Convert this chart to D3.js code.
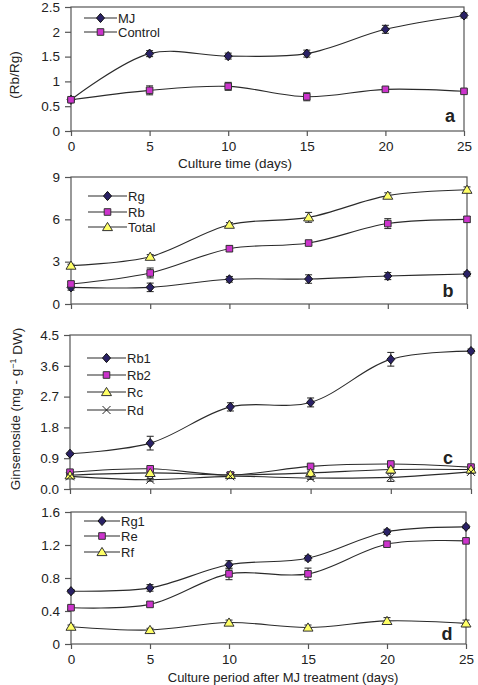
<!DOCTYPE html>
<html>
<head>
<meta charset="utf-8">
<script src="https://cdn.jsdelivr.net/npm/d3@7/dist/d3.min.js"></script>
<style>
  html, body { margin: 0; padding: 0; background: #fff; }
  svg { display: block; }
  text { font-family: "Liberation Sans", Arial, sans-serif; fill: #222; }
</style>
</head>
<body>
<svg id="chart" width="478" height="685"></svg>
<script>
// ---------- DATA ----------
const days = [0, 5, 10, 15, 20, 25];
const xTickLabels = ["0", "5", "10", "15", "20", "25"];

// Panel a: Rb/Rg ratio
const mjRatio        = [0.63, 1.56, 1.51, 1.56, 2.05, 2.33];
const mjRatioErr     = [0.03, 0.06, 0.06, 0.07, 0.08, 0.05];
const controlRatio    = [0.63, 0.82, 0.90, 0.69, 0.84, 0.80];
const controlRatioErr = [0.03, 0.09, 0.08, 0.08, 0.04, 0.03];
const ticksA = [0, 0.5, 1, 1.5, 2, 2.5];

// Panel b: Rg, Rb, Total
const rgGroup    = [1.18, 1.18, 1.75, 1.77, 1.98, 2.13];
const rgGroupErr = [0.2, 0.3, 0.2, 0.3, 0.25, 0.15];
const rbGroup    = [1.42, 2.20, 3.92, 4.32, 5.70, 6.00];
const rbGroupErr = [0.15, 0.35, 0.2, 0.15, 0.35, 0.2];
const totalGin    = [2.72, 3.35, 5.62, 6.14, 7.68, 8.10];
const totalGinErr = [0.1, 0.15, 0.15, 0.35, 0.2, 0.2];
const ticksB = [0, 3, 6, 9];

// Panel c: Rb1, Rb2, Rc, Rd
const rb1    = [1.03, 1.34, 2.40, 2.53, 3.79, 4.03];
const rb1Err = [0.03, 0.2, 0.12, 0.13, 0.2, 0.06];
const rb2    = [0.49, 0.59, 0.41, 0.66, 0.73, 0.64];
const rb2Err = [0.03, 0.04, 0.04, 0.04, 0.05, 0.04];
const rc     = [0.40, 0.47, 0.41, 0.47, 0.57, 0.57];
const rcErr  = [0.03, 0.04, 0.03, 0.05, 0.05, 0.04];
const rd     = [0.37, 0.27, 0.37, 0.32, 0.34, 0.50];
const rdErr  = [0.03, 0.04, 0.03, 0.04, 0.12, 0.04];
const ticksC = [0, 0.9, 1.8, 2.7, 3.6, 4.5];

// Panel d: Rg1, Re, Rf
const rg1    = [0.64, 0.68, 0.96, 1.04, 1.36, 1.42];
const rg1Err = [0.02, 0.04, 0.05, 0.03, 0.03, 0.02];
const re     = [0.44, 0.48, 0.85, 0.85, 1.21, 1.25];
const reErr  = [0.02, 0.03, 0.07, 0.07, 0.03, 0.02];
const rf     = [0.21, 0.17, 0.26, 0.20, 0.28, 0.25];
const rfErr  = [0.02, 0.02, 0.03, 0.03, 0.04, 0.04];
const ticksD = [0, 0.4, 0.8, 1.2, 1.6];

// ---------- STYLE / LAYOUT ----------
const markerStyle = {
  diamond:  { fill: "#2a2166", stroke: "#111" },
  square:   { fill: "#cc33cc", stroke: "#333" },
  triangle: { fill: "#ffff66", stroke: "#333" },
  cross:    { fill: "none",    stroke: "#222" }
};
function markerPath(type) {
  switch (type) {
    case "diamond":  return "M0,-4.6L4,0L0,4.6L-4,0Z";
    case "square":   return "M-3.3,-3.3H3.3V3.3H-3.3Z";
    case "triangle": return "M0,-4.6L5,3.6L-5,3.6Z";
    case "cross":    return "M-4,-4L4,4M-4,4L4,-4";
  }
}

const panels = [
  { left: 71, right: 464, top: 7, bottom: 131, max: 2.5, ticks: ticksA, fmt: d => String(d),
    letter: "a", letterPos: [450, 116], xLabels: true,
    legend: { x1: 84, x2: 117, ys: [18, 32] },
    series: [
      { name: "MJ", values: mjRatio, err: mjRatioErr, marker: "diamond" },
      { name: "Control", values: controlRatio, err: controlRatioErr, marker: "square" }
    ] },
  { left: 71, right: 467, top: 177, bottom: 304, max: 9, ticks: ticksB, fmt: d => String(d),
    letter: "b", letterPos: [448, 291], xLabels: false,
    legend: { x1: 88, x2: 127, ys: [196, 212, 227] },
    series: [
      { name: "Rg", values: rgGroup, err: rgGroupErr, marker: "diamond" },
      { name: "Rb", values: rbGroup, err: rbGroupErr, marker: "square" },
      { name: "Total", values: totalGin, err: totalGinErr, marker: "triangle" }
    ] },
  { left: 70, right: 471, top: 335, bottom: 489, max: 4.5, ticks: ticksC, fmt: d3.format(".1f"),
    letter: "c", letterPos: [448, 458], xLabels: false,
    legend: { x1: 87, x2: 126, ys: [358, 375, 392, 410] },
    series: [
      { name: "Rb1", values: rb1, err: rb1Err, marker: "diamond" },
      { name: "Rb2", values: rb2, err: rb2Err, marker: "square" },
      { name: "Rc", values: rc, err: rcErr, marker: "triangle" },
      { name: "Rd", values: rd, err: rdErr, marker: "cross" }
    ] },
  { left: 71, right: 466, top: 512, bottom: 644, max: 1.6, ticks: ticksD, fmt: d => String(d),
    letter: "d", letterPos: [447, 634], xLabels: true,
    legend: { x1: 84, x2: 120, ys: [521, 536, 552] },
    series: [
      { name: "Rg1", values: rg1, err: rg1Err, marker: "diamond" },
      { name: "Re", values: re, err: reErr, marker: "square" },
      { name: "Rf", values: rf, err: rfErr, marker: "triangle" }
    ] }
];

const svg = d3.select("#chart");
const FONT = "Liberation Sans, Arial, sans-serif";

panels.forEach(p => {
  const x = d3.scaleLinear().domain([0, 25]).range([p.left, p.right]);
  const y = d3.scaleLinear().domain([0, p.max]).range([p.bottom, p.top]);
  const g = svg.append("g");

  // frame
  g.append("rect")
    .attr("x", p.left).attr("y", p.top)
    .attr("width", p.right - p.left).attr("height", p.bottom - p.top)
    .attr("fill", "none").attr("stroke", "#555").attr("stroke-width", 1.2);

  // y axis
  const ya = g.append("g").attr("transform", `translate(${p.left},0)`)
    .call(d3.axisLeft(y).tickValues(p.ticks).tickFormat(p.fmt).tickSize(6).tickPadding(5));
  ya.select(".domain").remove();
  ya.selectAll(".tick line").attr("stroke", "#555").attr("stroke-width", 1.2);
  ya.selectAll(".tick text").style("font-size", "13.5px").style("font-family", FONT).attr("fill", "#222");

  // x axis
  const xa = g.append("g").attr("transform", `translate(0,${p.bottom})`)
    .call(d3.axisBottom(x).tickValues(days).tickFormat((d, i) => p.xLabels ? xTickLabels[i] : "").tickSize(5).tickPadding(5));
  xa.select(".domain").remove();
  xa.selectAll(".tick line").attr("stroke", "#555").attr("stroke-width", 1.2);
  xa.selectAll(".tick text").style("font-size", "13.5px").style("font-family", FONT).attr("fill", "#222");

  const line = d3.line()
    .x((d, i) => x(days[i]))
    .y(d => y(d))
    .curve(d3.curveCatmullRom.alpha(0.5));

  // lines
  p.series.forEach(s => {
    g.append("path").datum(s.values)
      .attr("d", line).attr("fill", "none")
      .attr("stroke", "#2a2a2a").attr("stroke-width", 1.1);
  });
  // error bars
  p.series.forEach(s => {
    const eb = g.append("g").attr("stroke", "#333").attr("stroke-width", 1.1);
    s.values.forEach((v, i) => {
      const cx = x(days[i]);
      const y1 = y(v - s.err[i]), y2 = y(v + s.err[i]);
      eb.append("line").attr("x1", cx).attr("x2", cx).attr("y1", y1).attr("y2", y2);
      eb.append("line").attr("x1", cx - 3.5).attr("x2", cx + 3.5).attr("y1", y1).attr("y2", y1);
      eb.append("line").attr("x1", cx - 3.5).attr("x2", cx + 3.5).attr("y1", y2).attr("y2", y2);
    });
  });
  // markers
  p.series.forEach(s => {
    const st = markerStyle[s.marker];
    g.append("g").selectAll("path").data(s.values).join("path")
      .attr("transform", (d, i) => `translate(${x(days[i])},${y(d)})`)
      .attr("d", markerPath(s.marker))
      .attr("fill", st.fill).attr("stroke", st.stroke).attr("stroke-width", 1);
  });

  // legend
  p.series.forEach((s, i) => {
    const ly = p.legend.ys[i];
    const st = markerStyle[s.marker];
    g.append("line").attr("x1", p.legend.x1).attr("x2", p.legend.x2)
      .attr("y1", ly).attr("y2", ly).attr("stroke", "#2a2a2a").attr("stroke-width", 1.1);
    g.append("path").attr("transform", `translate(${(p.legend.x1 + p.legend.x2) / 2},${ly})`)
      .attr("d", markerPath(s.marker))
      .attr("fill", st.fill).attr("stroke", st.stroke).attr("stroke-width", 1);
    g.append("text").attr("x", p.legend.x2 + 1).attr("y", ly)
      .attr("dy", "0.36em").style("font-size", "13px").text(s.name);
  });

  // panel letter
  g.append("text").attr("x", p.letterPos[0]).attr("y", p.letterPos[1])
    .attr("dy", "0.36em").attr("text-anchor", "middle")
    .style("font-size", "18px").style("font-weight", "bold").text(p.letter);
});

// axis titles
svg.append("text").attr("x", 235).attr("y", 163).attr("dy", "0.36em")
  .attr("text-anchor", "middle").style("font-size", "13.5px").text("Culture time (days)");
svg.append("text").attr("x", 283).attr("y", 677).attr("dy", "0.36em")
  .attr("text-anchor", "middle").style("font-size", "13px").text("Culture period after MJ treatment (days)");

svg.append("text").attr("transform", "translate(14,75) rotate(-90)").attr("dy", "0.36em")
  .attr("text-anchor", "middle").style("font-size", "13.5px").text("(Rb/Rg)");

const gt = svg.append("text").attr("transform", "translate(15,409) rotate(-90)").attr("dy", "0.36em")
  .attr("text-anchor", "middle").style("font-size", "13.5px");
gt.append("tspan").text("Ginsenoside (mg - g");
gt.append("tspan").attr("dy", "-0.45em").style("font-size", "9px").text("\u22121");
gt.append("tspan").attr("dy", "0.45em").text(" DW)");
</script>
</body>
</html>
